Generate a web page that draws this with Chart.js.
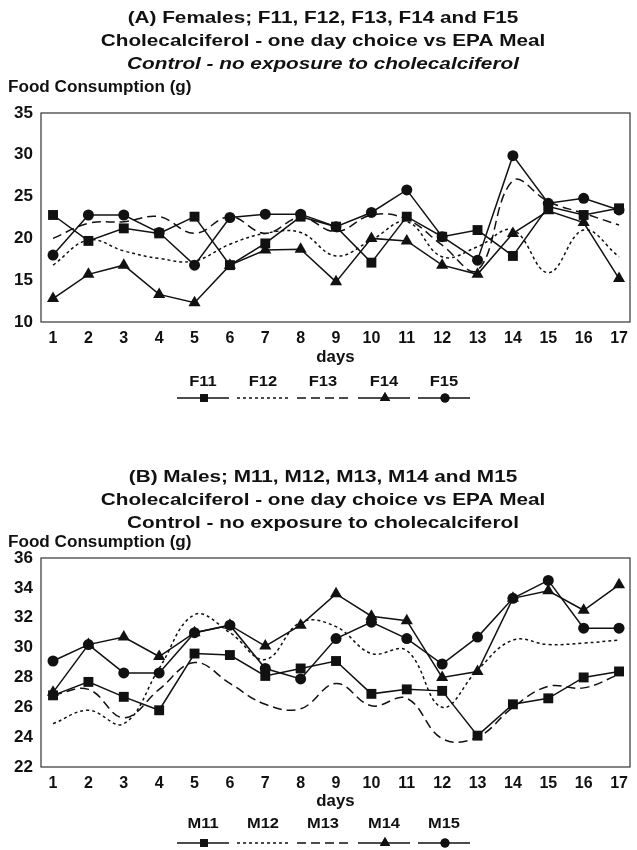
<!DOCTYPE html>
<html>
<head>
<meta charset="utf-8">
<script src="https://cdn.jsdelivr.net/npm/chart.js@4.4.0/dist/chart.umd.min.js"></script>
<style>
body { margin: 0; background: #fff; }
.wrap { position: absolute; left: 0; width: 637px; }
#wrapA { top: 0; height: 430px; }
#wrapB { top: 430px; height: 420px; }
</style>
</head>
<body>
<div class="wrap" id="wrapA"><canvas id="chartA" width="637" height="430"></canvas></div>
<div class="wrap" id="wrapB"><canvas id="chartB" width="637" height="420"></canvas></div>
<script>
// days on the x axis
var days = [1, 2, 3, 4, 5, 6, 7, 8, 9, 10, 11, 12, 13, 14, 15, 16, 17];

// (A) females
var femaleNames = ['F11', 'F12', 'F13', 'F14', 'F15'];
var F11 = [22.8, 19.7, 21.2, 20.6, 22.6, 16.8, 19.4, 22.6, 21.4, 17.1, 22.6, 20.2, 21.0, 17.9, 23.8, 22.8, 23.6];
var F12 = [16.8, 19.8, 18.5, 17.6, 17.3, 19.3, 20.6, 20.7, 17.9, 19.8, 22.0, 17.8, 19.0, 21.0, 15.9, 21.0, 17.8];
var F13 = [20.0, 21.8, 22.0, 22.6, 20.6, 22.6, 20.6, 22.5, 20.8, 22.8, 22.3, 19.2, 16.2, 26.9, 24.4, 23.0, 21.6];
var F14 = [12.8, 15.7, 16.8, 13.3, 12.3, 16.8, 18.6, 18.7, 14.8, 20.0, 19.7, 16.8, 15.7, 20.6, 23.3, 21.9, 15.2];
var F15 = [18.0, 22.8, 22.8, 20.7, 16.8, 22.5, 22.9, 22.9, 21.4, 23.1, 25.8, 20.2, 17.4, 29.9, 24.2, 24.8, 23.4];
var femaleTicks = [10, 15, 20, 25, 30, 35];

// (B) males
var maleNames = ['M11', 'M12', 'M13', 'M14', 'M15'];
var M11 = [26.8, 27.7, 26.7, 25.8, 29.6, 29.5, 28.1, 28.6, 29.1, 26.9, 27.2, 27.1, 24.1, 26.2, 26.6, 28.0, 28.4];
var M12 = [24.9, 25.8, 24.9, 28.6, 32.2, 31.0, 29.2, 31.7, 31.4, 29.6, 29.8, 26.0, 28.5, 30.5, 30.2, 30.3, 30.5];
var M13 = [26.8, 27.2, 25.3, 27.2, 29.0, 27.6, 26.2, 25.9, 27.6, 26.1, 26.6, 23.9, 24.0, 26.0, 27.4, 27.3, 28.2];
var M14 = [27.0, 30.2, 30.7, 29.4, 31.0, 31.5, 30.1, 31.5, 33.6, 32.1, 31.8, 28.0, 28.4, 33.3, 33.8, 32.5, 34.2];
var M15 = [29.1, 30.2, 28.3, 28.3, 31.0, 31.5, 28.6, 27.9, 30.6, 31.7, 30.6, 28.9, 30.7, 33.3, 34.5, 31.3, 31.3];
var maleTicks = [22, 24, 26, 28, 30, 32, 34, 36];

var FONT = '"Liberation Sans", Arial, Helvetica, sans-serif';
var INK = '#111';

// one look per animal: square, dotted, dashed, triangle, circle
var looks = [
    { pointStyle: 'rect', radius: 7, legendRadius: 5.5, dash: [], tension: 0 },
    { pointStyle: false, radius: 0, legendRadius: 0, dash: [3, 3], tension: 0.4 },
    { pointStyle: false, radius: 0, legendRadius: 0, dash: [9, 5], tension: 0.4 },
    { pointStyle: 'triangle', radius: 7, legendRadius: 6, dash: [], tension: 0 },
    { pointStyle: 'circle', radius: 5.5, legendRadius: 4.5, dash: [], tension: 0 }
];

function makeDatasets(names, series) {
    return names.map(function (name, i) {
        var look = looks[i];
        return {
            label: name,
            data: days.map(function (d, j) { return { x: d, y: series[i][j] }; }),
            borderColor: INK,
            backgroundColor: INK,
            borderWidth: 1.5,
            borderDash: look.dash,
            tension: look.tension,
            pointStyle: look.pointStyle || 'circle',
            pointRadius: look.radius,
            pointBorderWidth: 0,
            legendRadius: look.legendRadius,
            fill: false
        };
    });
}

// stretched bold text, the scan is wider than plain Arial
function wideText(ctx, text, x, y, font, stretch) {
    ctx.save();
    ctx.font = font;
    ctx.translate(x, y);
    ctx.scale(stretch, 1);
    ctx.fillText(text, 0, 0);
    ctx.restore();
}

// frame, headings and the legend under the axis
var decorPlugin = {
    id: 'decor',
    beforeDatasetsDraw: function (chart) {
        var a = chart.chartArea, ctx = chart.ctx;
        ctx.save();
        ctx.strokeStyle = '#333';
        ctx.lineWidth = 1.2;
        ctx.strokeRect(a.left, a.top, a.right - a.left, a.bottom - a.top);
        ctx.restore();
    },
    afterDraw: function (chart, args, o) {
        var ctx = chart.ctx;
        var a = chart.chartArea;
        ctx.save();
        ctx.fillStyle = INK;
        ctx.textBaseline = 'middle';
        ctx.textAlign = 'center';
        o.headings.forEach(function (h, i) {
            var f = (i === 2 && o.italic ? 'italic ' : '') + 'bold 17px ' + FONT;
            wideText(ctx, h, o.headX, o.headY[i], f, 1.22);
        });
        ctx.textAlign = 'left';
        wideText(ctx, 'Food Consumption (g)', o.yTitleX, o.yTitleY, 'bold 16px ' + FONT, 1.07);
        ctx.textAlign = 'center';
        wideText(ctx, 'days', (a.left + a.right) / 2, o.daysY, 'bold 16px ' + FONT, 1.05);

        chart.data.datasets.forEach(function (ds, i) {
            var cx = o.legendX[i];
            ctx.fillStyle = INK;
            wideText(ctx, ds.label, cx, o.legendY, 'bold 15px ' + FONT, 1.1);
            ctx.strokeStyle = INK;
            ctx.lineWidth = 1.5;
            ctx.setLineDash(ds.borderDash);
            ctx.beginPath();
            ctx.moveTo(cx - 26, o.legendLineY);
            ctx.lineTo(cx + 26, o.legendLineY);
            ctx.stroke();
            ctx.setLineDash([]);
            if (ds.legendRadius > 0) {
                Chart.helpers.drawPoint(ctx, { pointStyle: ds.pointStyle, radius: ds.legendRadius, rotation: 0, borderWidth: 0 }, cx + 1, o.legendLineY);
                ctx.fill();
            }
        });
        ctx.restore();
    }
};

function createConfig(names, series, ticks, box, decor) {
    return {
        type: 'line',
        data: { datasets: makeDatasets(names, series) },
        plugins: [decorPlugin],
        options: {
            responsive: false,
            animation: false,
            layout: { padding: { top: box.top, left: 0, right: 637 - box.right, bottom: 0 } },
            plugins: {
                legend: { display: false },
                tooltip: { enabled: false },
                decor: decor
            },
            scales: {
                x: {
                    type: 'linear',
                    min: 0.66,
                    max: 17.31,
                    grid: { display: false, drawTicks: false },
                    border: { display: false },
                    afterBuildTicks: function (s) { s.ticks = days.map(function (d) { return { value: d }; }); },
                    afterFit: function (s) { s.height = box.height - box.bottom; },
                    ticks: { autoSkip: false, maxRotation: 0, padding: 7, color: INK, font: { family: FONT, size: 16, weight: 'bold' } }
                },
                y: {
                    min: ticks[0],
                    max: ticks[ticks.length - 1],
                    grid: { display: false, drawTicks: false },
                    border: { display: false },
                    afterBuildTicks: function (s) { s.ticks = ticks.map(function (t) { return { value: t }; }); },
                    afterFit: function (s) { s.width = box.left; },
                    ticks: { padding: 8, color: INK, font: { family: FONT, size: 17, weight: 'bold' } }
                }
            }
        }
    };
}

var legendXs = [203, 263, 323, 384, 444];

var chartA = new Chart(document.getElementById('chartA'), createConfig(
    femaleNames, [F11, F12, F13, F14, F15], femaleTicks,
    { top: 113, bottom: 322, left: 41, right: 635, height: 430 },
    {
        headings: ['(A) Females; F11, F12, F13, F14 and F15', 'Cholecalciferol - one day choice vs EPA Meal', 'Control - no exposure to cholecalciferol'],
        italic: true, headX: 323, headY: [18, 41, 64], yTitleX: 8, yTitleY: 88,
        daysY: 358, legendX: legendXs, legendY: 382, legendLineY: 398
    }
));

var chartB = new Chart(document.getElementById('chartB'), createConfig(
    maleNames, [M11, M12, M13, M14, M15], maleTicks,
    { top: 128, bottom: 337, left: 41, right: 635, height: 420 },
    {
        headings: ['(B) Males; M11, M12, M13, M14 and M15', 'Cholecalciferol - one day choice vs EPA Meal', 'Control - no exposure to cholecalciferol'],
        italic: false, headX: 323, headY: [47, 70, 93], yTitleX: 8, yTitleY: 113,
        daysY: 372, legendX: legendXs, legendY: 394, legendLineY: 413
    }
));
</script>
</body>
</html>
